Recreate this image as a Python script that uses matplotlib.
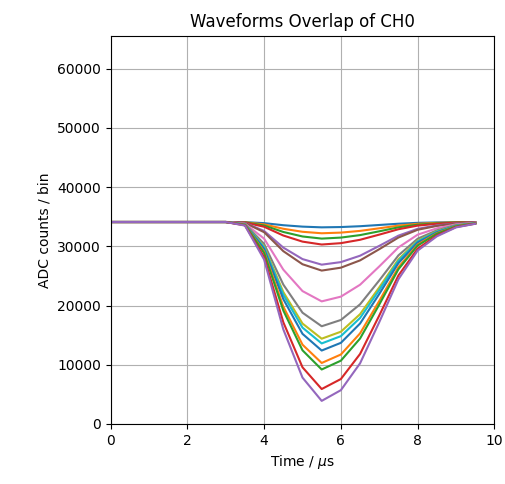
import numpy as np
import matplotlib
matplotlib.use('Agg')
import matplotlib.pyplot as plt

# sample times (us)
time_us = [0.0, 0.5, 1.0, 1.5, 2.0, 2.5, 3.0, 3.5, 4.0, 4.5,
           5.0, 5.5, 6.0, 6.5, 7.0, 7.5, 8.0, 8.5, 9.0, 9.5]

baseline = [34100] * 7

# waveforms, from x = 3.5 us onward
wf01 = baseline + [34080, 33910, 33560, 33320, 33200, 33250, 33390, 33600, 33810, 33960, 34030, 34070, 34090]
wf02 = baseline + [34060, 33700, 32960, 32450, 32200, 32310, 32600, 33040, 33490, 33800, 33950, 34040, 34080]
wf03 = baseline + [34040, 33510, 32420, 31660, 31300, 31470, 31890, 32530, 33200, 33650, 33880, 34020, 34070]
wf04 = baseline + [34020, 33300, 31820, 30790, 30300, 30530, 31100, 31970, 32880, 33490, 33800, 33990, 34060]
wf05 = baseline + [33960, 32590, 29780, 27840, 26900, 27330, 28410, 30070, 31800, 32950, 33520, 33880, 34030]
wf06 = baseline + [33940, 32380, 29180, 26970, 25900, 26390, 27620, 29510, 31480, 32790, 33440, 33850, 34020]
wf07 = baseline + [33830, 31290, 26060, 22440, 20700, 21500, 23510, 26600, 29810, 31960, 33030, 33700, 33970]
wf08 = baseline + [33750, 30400, 23540, 18790, 16500, 17560, 20200, 24240, 28470, 31280, 32690, 33570, 33920]
wf09 = baseline + [33710, 29960, 22280, 16960, 14400, 15580, 18540, 23070, 27800, 30950, 32520, 33510, 33900]
wf10 = baseline + [33690, 29800, 21800, 16270, 13600, 14830, 17900, 22620, 27540, 30820, 32460, 33490, 33900]
wf11 = baseline + [33670, 29540, 21080, 15220, 12400, 13700, 16960, 21950, 27160, 30630, 32360, 33450, 33880]
wf12 = baseline + [33620, 29100, 19820, 13390, 10300, 11730, 15300, 20770, 26480, 30290, 32200, 33390, 33860]
wf13 = baseline + [33600, 28870, 19160, 12440, 9200, 10690, 14430, 20160, 26130, 30120, 32110, 33350, 33850]
wf14 = baseline + [33540, 28180, 17180, 9570, 5900, 7590, 11820, 18310, 25080, 29590, 31840, 33250, 33820]
wf15 = baseline + [33500, 27760, 15980, 7830, 3900, 5710, 10240, 17190, 24440, 29270, 31680, 33190, 33800]

waveforms = [wf01, wf02, wf03, wf04, wf05, wf06, wf07, wf08,
             wf09, wf10, wf11, wf12, wf13, wf14, wf15]

fig = plt.figure(figsize=(5.05, 4.84), dpi=100)
ax = fig.add_axes([0.219, 0.124, 0.760, 0.802])

for wf in waveforms:
    ax.plot(time_us, wf)

ax.set_xlim(0, 10)
ax.set_ylim(0, 65536)
ax.set_yticks(np.arange(0, 60001, 10000))
ax.grid(True)
ax.set_title('Waveforms Overlap of CH0')
ax.set_xlabel(r'Time / $\mu$s')
ax.set_ylabel('ADC counts / bin')

fig.savefig('out.png', dpi=100)
